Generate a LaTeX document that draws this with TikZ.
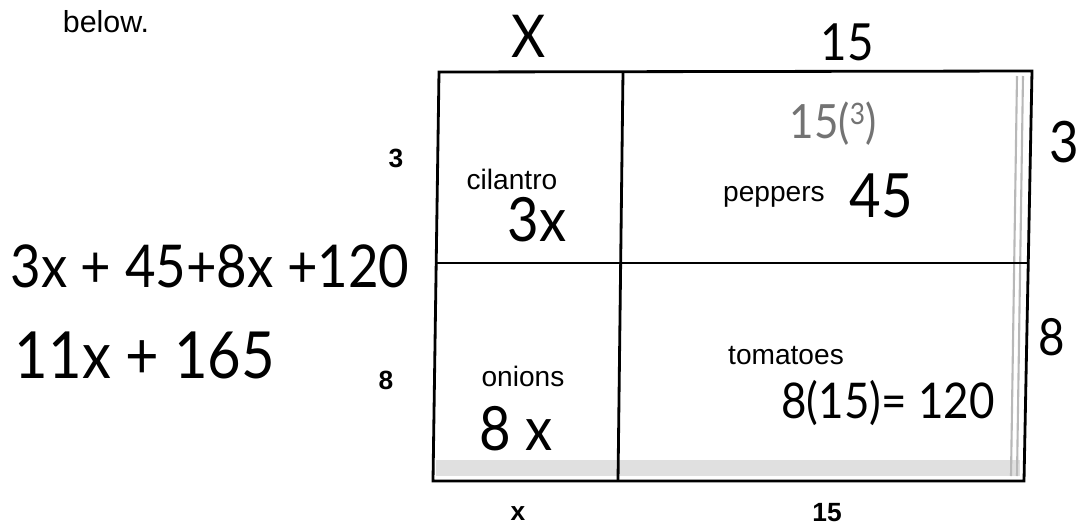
\documentclass[tikz,border=0pt]{standalone}
\usepackage{fontspec}
\setmainfont{Liberation Sans}
\newfontfamily\hand{Lato}
\usepackage{tikz}
\usetikzlibrary{positioning}
\newcommand{\tallw}[1]{\scalebox{1}[1.12]{#1}}

\begin{document}
\begin{tikzpicture}[
    x=0.02cm, y=-0.02cm,
    printed/.style={inner sep=0pt, font=\fontsize{16}{18}\selectfont},
    side/.style={inner sep=0pt, font=\fontsize{15}{17}\selectfont\bfseries},
    handw/.style={inner sep=0pt, font=\fontsize{#1}{#1}\selectfont\hand},
    grid/.style={draw=black, line width=1.6pt},
    scan/.style={draw=black!28, line width=1.2pt}
]
\useasboundingbox (0,0) rectangle (1079,525);

% corners of the area model (the scan is a little skewed)
\coordinate (tl) at (439,72);
\coordinate (tr) at (1032,71);
\coordinate (br) at (1024,481);
\coordinate (bl) at (433,481);
\coordinate (vtop) at (623,72);
\coordinate (vbot) at (618,481);
\coordinate (hleft) at (436,263);
\coordinate (hright) at (1028,263);

% scanner marks
\coordinate (s1a) at (1017,76);
\coordinate (s1b) at (1011,476);
\coordinate (s2a) at (1023,76);
\coordinate (s2b) at (1017,476);
\coordinate (s3a) at (436,460);
\coordinate (s3b) at (1020,476);
\fill[black!12] (s3a) rectangle (s3b);
\draw[scan] (s1a) -- (s1b);
\draw[scan] (s2a) -- (s2b);

\draw[grid] (tl) -- (tr) -- (br) -- (bl) -- cycle;
\draw[grid] (vtop) -- (vbot);
\draw[grid] (hleft) -- (hright);

% printed text
\node[inner sep=0pt, font=\fontsize{17.3}{19}\selectfont] (below) at (106,22) {below.};
\node[side] (side3) at (396,158) {3};
\node[side] (side8) at (386,380) {8};
\node[side] (sidex) at (518,514) {x};
\node[side] (side15) at (827,513) {15};
\node[printed] (cilantro) at (512,179) {cilantro};
\node[printed] (peppers) at (774,197) {peppers};
\node[printed] (onions) at (523,376) {onions};
\node[printed] (tomatoes) at (786,356) {tomatoes};

% handwritten work
\node[handw=30] (topx) at (529,36) {\tallw{X}};
\node[handw=26] (top15) at (847,42) {\tallw{15}};
\node[handw=31] (cil3x) at (537,220) {\tallw{3x}};
\node[handw=24, text=black!55] (pep153) at (833,124)
    {\tallw{15(\raisebox{0.3em}{\fontsize{15}{15}\selectfont 3})}};
\node[handw=31] (pep45) at (881,196) {\tallw{45}};
\node[handw=29] (right3) at (1064,142) {\tallw{3}};
\node[handw=26] (right8) at (1052,337) {\tallw{8}};
\node[handw=31] (oni8x) at (516,429) {\tallw{8 x}};
\node[handw=25] (tom120) at (888,403) {\tallw{8(15)= 120}};
\node[handw=30] (sumall) at (210,266) {\tallw{3x + 45+8x +120}};
\node[handw=33] (sumshort) at (145,355) {\tallw{11x + 165}};

\end{tikzpicture}
\end{document}
